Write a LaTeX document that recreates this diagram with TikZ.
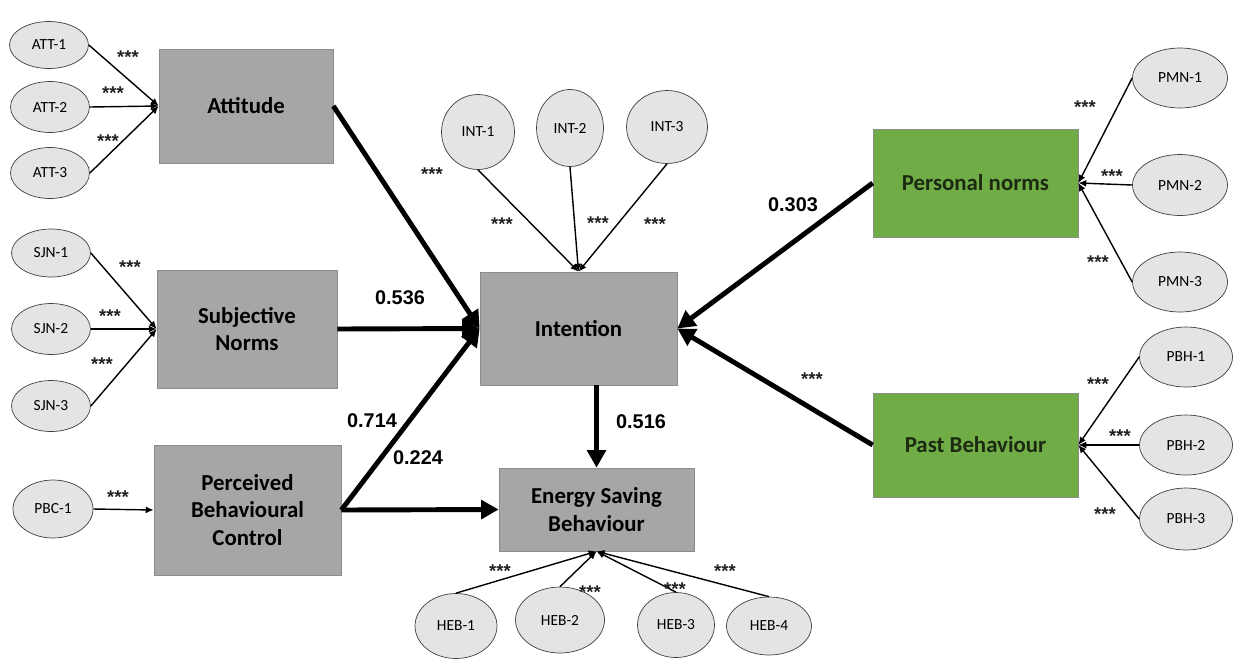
\documentclass[tikz,border=0pt]{standalone}
\usepackage{fontspec}
\setmainfont{Carlito}
\newfontfamily\numfont{Liberation Sans}
\usetikzlibrary{shapes,arrows.meta,positioning}

\definecolor{boxgray}{HTML}{A6A6A6}
\definecolor{boxline}{HTML}{8C8C8C}
\definecolor{normgreen}{HTML}{70AD47}
\definecolor{darktext}{HTML}{1C2A12}
\definecolor{itemgray}{HTML}{E4E4E4}
\definecolor{itemline}{HTML}{404040}
\definecolor{stargray}{HTML}{202020}

\begin{document}
\begin{tikzpicture}[x=0.02cm,y=-0.02cm,
    construct/.style={rectangle, draw=boxline, fill=boxgray, align=center, inner sep=2pt,
      font=\bfseries\fontsize{13}{15.8}\selectfont},
    greenbox/.style={construct, fill=normgreen, text=darktext},
    indicator/.style={ellipse, draw=itemline, fill=itemgray, inner sep=0pt,
      minimum width=1.58cm, minimum height=1.02cm, font=\fontsize{8.8}{10}\selectfont},
    loading/.style={-{Latex[length=4.5pt,width=4pt]}, line width=0.8pt},
    effect/.style={-{Triangle[length=10pt,width=10.5pt]}, line width=2.8pt},
    sig/.style={font=\numfont\bfseries\fontsize{10.5}{12}\selectfont, text=stargray, anchor=base},
    coef/.style={font=\numfont\bfseries\fontsize{11.3}{13}\selectfont},
  ]
  \useasboundingbox (0,0) rectangle (1233,660);

  %constructs
  \node[construct, minimum width=3.48cm, minimum height=2.28cm] (att) at (246,106) {Attitude};
  \node[construct, minimum width=3.6cm, minimum height=2.36cm] (sjn) at (247,329) {Subjective\\Norms};
  \node[construct, minimum width=3.74cm, minimum height=2.6cm] (pbc) at (247.5,510) {Perceived\\Behavioural\\Control};
  \node[construct, minimum width=3.94cm, minimum height=2.26cm] (int) at (578.5,328.5) {Intention};
  \node[construct, minimum width=3.9cm, minimum height=1.66cm] (esb) at (596.5,509.5) {Energy Saving\\Behaviour};
  \node[greenbox, minimum width=4.1cm, minimum height=2.16cm] (pmn) at (975.5,183) {Personal norms};
  \node[greenbox, minimum width=4.1cm, minimum height=2.08cm] (pbh) at (975.5,445) {Past Behaviour};

  %items, left
  \node[indicator, minimum height=0.94cm] (att1) at (49,45) {ATT-1};
  \node[indicator] (att2) at (50,107) {ATT-2};
  \node[indicator] (att3) at (50,173) {ATT-3};
  \node[indicator, minimum height=0.96cm] (sjn1) at (51,253) {SJN-1};
  \node[indicator] (sjn2) at (51,329) {SJN-2};
  \node[indicator] (sjn3) at (51,406) {SJN-3};
  \node[indicator, minimum width=1.6cm, minimum height=1.16cm] (pbc1) at (53,509) {PBC-1};

  %items, intention
  \node[indicator, minimum width=1.46cm, minimum height=1.5cm] (int1) at (478,132) {INT-1};
  \node[indicator, minimum width=1.34cm, minimum height=1.54cm] (int2) at (570,128) {INT-2};
  \node[indicator, minimum width=1.62cm, minimum height=1.46cm] (int3) at (667,127) {INT-3};

  %items, behaviour
  \node[indicator, minimum width=1.64cm, minimum height=1.3cm] (heb1) at (456,626) {HEB-1};
  \node[indicator, minimum width=1.78cm, minimum height=1.32cm] (heb2) at (560,620) {HEB-2};
  \node[indicator, minimum width=1.54cm, minimum height=1.3cm] (heb3) at (676,625) {HEB-3};
  \node[indicator, minimum width=1.7cm, minimum height=1.16cm] (heb4) at (769,626) {HEB-4};

  %items, right
  \node[indicator, minimum width=1.9cm, minimum height=1.2cm] (pmn1) at (1180,78) {PMN-1};
  \node[indicator, minimum width=1.9cm, minimum height=1.22cm] (pmn2) at (1180,185) {PMN-2};
  \node[indicator, minimum width=1.9cm, minimum height=1.2cm] (pmn3) at (1180,282) {PMN-3};
  \node[indicator, minimum width=1.86cm, minimum height=1.2cm] (pbh1) at (1186,357) {PBH-1};
  \node[indicator, minimum width=1.86cm, minimum height=1.2cm] (pbh2) at (1186,445) {PBH-2};
  \node[indicator, minimum width=1.86cm, minimum height=1.24cm] (pbh3) at (1186,519) {PBH-3};

  %loadings
  \draw[loading] (att1.east) -- (att.west);
  \draw[loading] (att2.east) -- (att.west);
  \draw[loading] (att3.east) -- (att.west);
  \draw[loading] (sjn1.east) -- (sjn.west);
  \draw[loading] (sjn2.east) -- (sjn.west);
  \draw[loading] (sjn3.east) -- (sjn.west);
  \draw[loading] (pbc1.east) -- (pbc.west);
  \draw[loading] (int1.south) -- (int.north);
  \draw[loading] (int2.south) -- (int.north);
  \draw[loading] (int3.south) -- (int.north);
  \draw[loading] (heb1.north) -- (esb.south);
  \draw[loading] (heb2.north) -- (esb.south);
  \draw[loading] (heb3.north) -- (esb.south);
  \draw[loading] (heb4.north) -- (esb.south);
  \draw[loading] (pmn1.west) -- (pmn.east);
  \draw[loading] (pmn2.west) -- (pmn.east);
  \draw[loading] (pmn3.west) -- (pmn.east);
  \draw[loading] (pbh1.west) -- (pbh.east);
  \draw[loading] (pbh2.west) -- (pbh.east);
  \draw[loading] (pbh3.west) -- (pbh.east);

  %structural paths
  \draw[effect] (att.east) -- (int.west);
  \draw[effect] (sjn.east) -- (int.west);
  \draw[effect] (pbc.east) -- (int.west);
  \draw[effect] (pbc.east) -- (esb.west);
  \draw[effect] (esb.north |- int.south) -- (esb.north);
  \draw[effect] (pmn.west) -- (int.east);
  \draw[effect] (pbh.west) -- (int.east);

  %coefficients
  \node[coef] (c536) at (400,298) {0.536};
  \node[coef] (c714) at (372,421) {0.714};
  \node[coef] (c224) at (418,458) {0.224};
  \node[coef] (c516) at (641,422) {0.516};
  \node[coef] (c303) at (793,205) {0.303};
  \node[sig] (s-att) at (432,180) {***};
  \node[sig] (s-pbh) at (812,385) {***};

  %significance of items
  \node[sig] (s-att1) at (128,63) {***};
  \node[sig] (s-att2) at (113,99) {***};
  \node[sig] (s-att3) at (108,147) {***};
  \node[sig] (s-sjn1) at (130,273) {***};
  \node[sig] (s-sjn2) at (110,322) {***};
  \node[sig] (s-sjn3) at (102,370) {***};
  \node[sig] (s-pbc1) at (118,503) {***};
  \node[sig] (s-int1) at (502,230) {***};
  \node[sig] (s-int2) at (598,229) {***};
  \node[sig] (s-int3) at (655,230) {***};
  \node[sig] (s-heb1) at (500,577) {***};
  \node[sig] (s-heb2) at (590,598) {***};
  \node[sig] (s-heb3) at (675,595) {***};
  \node[sig] (s-heb4) at (725,577) {***};
  \node[sig] (s-pmn1) at (1085,113) {***};
  \node[sig] (s-pmn2) at (1112,182) {***};
  \node[sig] (s-pmn3) at (1098,268) {***};
  \node[sig] (s-pbh1) at (1098,390) {***};
  \node[sig] (s-pbh2) at (1120,442) {***};
  \node[sig] (s-pbh3) at (1105,520) {***};
\end{tikzpicture}
\end{document}
